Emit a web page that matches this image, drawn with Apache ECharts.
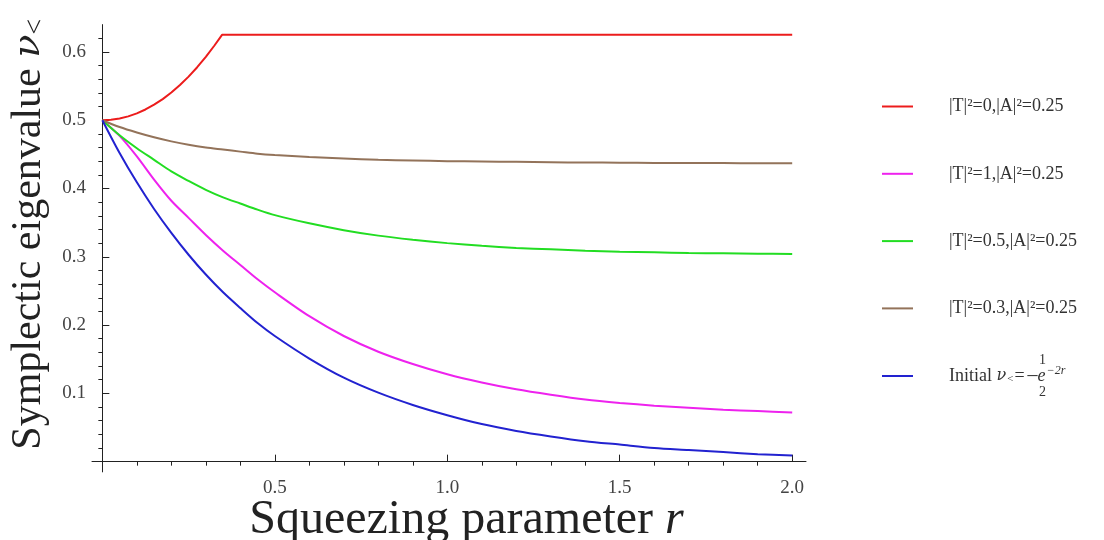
<!DOCTYPE html>
<html>
<head>
<meta charset="utf-8">
<script src="https://cdn.jsdelivr.net/npm/echarts@6/dist/echarts.min.js"></script>
<style>
html,body{margin:0;padding:0;background:#fff;}
#chart{width:1104px;height:540px;}
</style>
</head>
<body>
<div id="chart"></div>
<script>
// ---- data ----
const seriesNames = ['|T|²=0,|A|²=0.25', '|T|²=1,|A|²=0.25', '|T|²=0.5,|A|²=0.25', '|T|²=0.3,|A|²=0.25', 'Initial'];
const rRed = [0, 0.025, 0.05, 0.075, 0.1, 0.125, 0.15, 0.175, 0.2, 0.225, 0.25, 0.275, 0.3, 0.325, 0.347, 2.0];
const vRed = [0.5, 0.5006, 0.5025, 0.5056, 0.510, 0.5157, 0.5227, 0.5309, 0.5405, 0.5515, 0.5638, 0.5776, 0.5927, 0.6094, 0.625, 0.625];
const rGrid = [0, 0.05, 0.1, 0.15, 0.2, 0.25, 0.3, 0.35, 0.4, 0.45, 0.5, 0.6, 0.7, 0.8, 0.9, 1.0, 1.1, 1.2, 1.3, 1.4, 1.5, 1.6, 1.7, 1.8, 1.9, 2.0];
const vMagenta = [0.5, 0.477, 0.447, 0.413, 0.382, 0.357, 0.332, 0.309, 0.288, 0.267, 0.248, 0.213, 0.184, 0.161, 0.143, 0.128, 0.116, 0.106, 0.098, 0.091, 0.086, 0.082, 0.079, 0.076, 0.074, 0.072];
const vGreen = [0.5, 0.478, 0.459, 0.442, 0.425, 0.411, 0.398, 0.387, 0.378, 0.369, 0.361, 0.349, 0.339, 0.331, 0.325, 0.320, 0.316, 0.313, 0.311, 0.309, 0.3075, 0.3065, 0.3055, 0.305, 0.3045, 0.304];
const vBrown = [0.5, 0.490, 0.482, 0.475, 0.469, 0.464, 0.460, 0.457, 0.454, 0.451, 0.449, 0.446, 0.444, 0.442, 0.441, 0.440, 0.4395, 0.439, 0.4385, 0.438, 0.4378, 0.4375, 0.4373, 0.4372, 0.4371, 0.437];
const vBlue = [0.5, 0.452, 0.409, 0.370, 0.335, 0.303, 0.274, 0.248, 0.225, 0.203, 0.184, 0.151, 0.123, 0.101, 0.083, 0.068, 0.055, 0.045, 0.037, 0.030, 0.025, 0.020, 0.017, 0.014, 0.011, 0.009];
const xMajorTicks = [0.5, 1.0, 1.5, 2.0];
const xMinorTicks = [0.1, 0.2, 0.3, 0.4, 0.6, 0.7, 0.8, 0.9, 1.1, 1.2, 1.3, 1.4, 1.6, 1.7, 1.8, 1.9];
const yMajorTicks = [0.1, 0.2, 0.3, 0.4, 0.5, 0.6];
const yMinorTicks = [0.02, 0.04, 0.06, 0.08, 0.12, 0.14, 0.16, 0.18, 0.22, 0.24, 0.26, 0.28, 0.32, 0.34, 0.36, 0.38, 0.42, 0.44, 0.46, 0.48, 0.52, 0.54, 0.56, 0.58, 0.62];
const colors = ['#ec1c1c', '#ee22ee', '#22dd22', '#93735a', '#2222d0'];

function pairs(xs, ys) { return xs.map((x, i) => [x, ys[i]]); }

const FONT = 'Liberation Serif';
const GREEK = 'DejaVu Serif';
const chart = echarts.init(document.getElementById('chart'));

const baseAxis = {
  axisLine: { onZero: true, lineStyle: { color: '#222', width: 1 } },
  splitLine: { show: false }
};

chart.setOption({
  animation: false,
  backgroundColor: '#fff',
  grid: { left: 92, right: 298, top: 24.6, bottom: 68.1, containLabel: false, outerBoundsMode: 'none' },
  xAxis: [
    Object.assign({}, baseAxis, {
      type: 'value', min: -0.03, max: 2.04,
      axisTick: { inside: true, length: 7, customValues: xMajorTicks, lineStyle: { color: '#222' } },
      axisLabel: { customValues: xMajorTicks, margin: 7, color: '#444', fontFamily: FONT, fontSize: 19,
        formatter: v => v.toFixed(1) },
      name: 'Squeezing parameter {i|r}', nameLocation: 'middle', nameGap: 24, nameMoveOverlap: false,
      nameTextStyle: { fontFamily: FONT, fontSize: 48, color: '#222', padding: [0, 0, 0, 35],
        rich: { i: { fontFamily: FONT, fontStyle: 'italic', fontSize: 48, color: '#222' } } }
    }),
    Object.assign({}, baseAxis, {
      type: 'value', min: -0.03, max: 2.04,
      axisLine: { show: false, onZero: true },
      axisTick: { inside: true, length: 4, customValues: xMinorTicks, lineStyle: { color: '#222' } },
      axisLabel: { show: false }
    })
  ],
  yAxis: [
    Object.assign({}, baseAxis, {
      type: 'value', min: -0.015, max: 0.64,
      axisTick: { inside: true, length: 7, customValues: yMajorTicks, lineStyle: { color: '#222' } },
      axisLabel: { customValues: yMajorTicks, margin: 6, color: '#444', fontFamily: FONT, fontSize: 19,
        formatter: v => v.toFixed(1) },
      name: 'Symplectic eigenvalue {nu|ν}{lt|<}', nameLocation: 'middle', nameGap: 42, nameRotate: 90, nameMoveOverlap: false,
      nameTextStyle: { fontFamily: FONT, fontSize: 42, color: '#222', padding: [0, 0, 0, 28],
        rich: { nu: { fontFamily: GREEK, fontStyle: 'italic', fontSize: 38, color: '#222' },
                lt: { fontFamily: FONT, fontSize: 28, color: '#222', padding: [14, 0, 0, 0] } } }
    }),
    Object.assign({}, baseAxis, {
      type: 'value', min: -0.015, max: 0.64,
      axisLine: { show: false, onZero: true },
      axisTick: { inside: true, length: 4, customValues: yMinorTicks, lineStyle: { color: '#222' } },
      axisLabel: { show: false }
    })
  ],
  legend: [
    {
      data: seriesNames.slice(0, 4), orient: 'vertical', left: 882, top: 96.5, padding: 0,
      itemGap: 47.3, itemWidth: 31, itemHeight: 2, icon: 'rect',
      textStyle: { fontFamily: FONT, fontSize: 18, color: '#333', lineHeight: 20, padding: [0, 0, 0, 31] }
    },
    {
      data: [seriesNames[4]], orient: 'vertical', left: 882, top: 352, padding: 0,
      itemWidth: 31, itemHeight: 2, icon: 'rect',
      formatter: () => '{sp| }{n|1}\n{t|Initial }{nu|ν}{lt|<}{eq|=}{bar|–}{e|e}{sup|−2r}\n{sp| }{n|2}',
      textStyle: {
        fontFamily: FONT, fontSize: 18, color: '#333', lineHeight: 16, padding: [0, 0, 0, 31],
        rich: {
          sp: { width: 88, fontSize: 13, lineHeight: 16 },
          n: { fontFamily: FONT, fontSize: 14, color: '#333', lineHeight: 16, padding: [0, 0, 0, 2] },
          t: { fontFamily: FONT, fontSize: 18, color: '#333', lineHeight: 16 },
          nu: { fontFamily: GREEK, fontSize: 16, fontStyle: 'italic', color: '#333', lineHeight: 16 },
          lt: { fontFamily: FONT, fontSize: 11, color: '#333', lineHeight: 16, padding: [6, 1, 0, 1] },
          eq: { fontFamily: FONT, fontSize: 18, color: '#333', lineHeight: 16, padding: [0, 3, 0, 0] },
          bar: { fontFamily: FONT, fontSize: 20, color: '#333', lineHeight: 16 },
          e: { fontFamily: FONT, fontSize: 18, fontStyle: 'italic', color: '#333', lineHeight: 16 },
          sup: { fontFamily: FONT, fontSize: 12, fontStyle: 'italic', color: '#333', lineHeight: 16, padding: [0, 0, 10, 1] }
        }
      }
    }
  ],
  series: [
    { name: seriesNames[0], type: 'line', data: pairs(rRed, vRed), showSymbol: false, smooth: false,
      lineStyle: { color: colors[0], width: 2 }, itemStyle: { color: colors[0] } },
    { name: seriesNames[1], type: 'line', data: pairs(rGrid, vMagenta), showSymbol: false, smooth: 0.3,
      lineStyle: { color: colors[1], width: 2 }, itemStyle: { color: colors[1] } },
    { name: seriesNames[2], type: 'line', data: pairs(rGrid, vGreen), showSymbol: false, smooth: 0.3,
      lineStyle: { color: colors[2], width: 2 }, itemStyle: { color: colors[2] } },
    { name: seriesNames[3], type: 'line', data: pairs(rGrid, vBrown), showSymbol: false, smooth: 0.3,
      lineStyle: { color: colors[3], width: 2 }, itemStyle: { color: colors[3] } },
    { name: seriesNames[4], type: 'line', data: pairs(rGrid, vBlue), showSymbol: false, smooth: 0.3,
      lineStyle: { color: colors[4], width: 2 }, itemStyle: { color: colors[4] } }
  ]
});
</script>
</body>
</html>
